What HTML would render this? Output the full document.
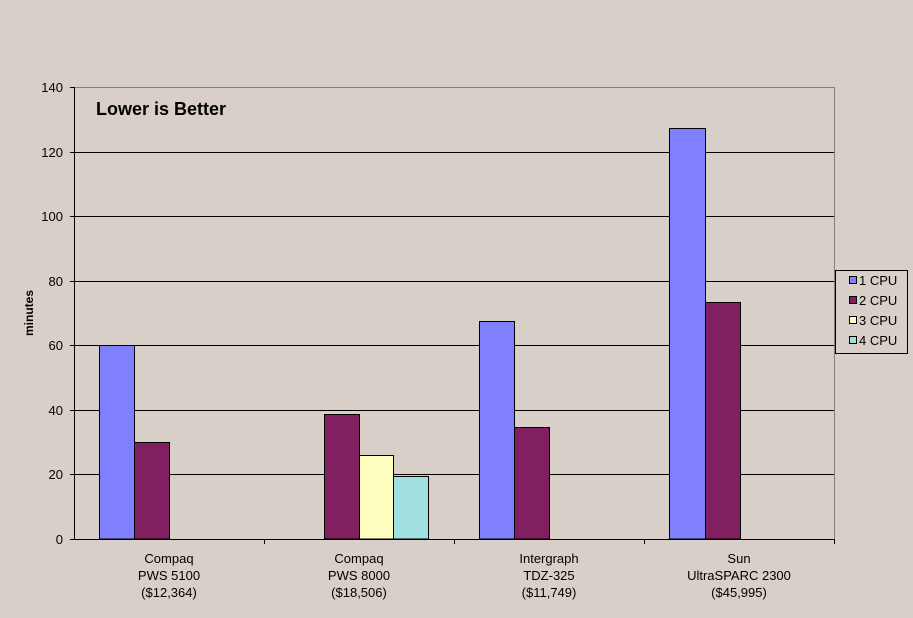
<!DOCTYPE html>
<html><head><style>
html,body{margin:0;padding:0;background:#d8d0c8;overflow:hidden;width:913px;height:618px;}
svg{display:block;}
svg text{font-family:"Liberation Sans",Arial,sans-serif;}
</style></head><body>
<svg width="913" height="618" xmlns="http://www.w3.org/2000/svg">
<rect width="913" height="618" fill="#d8d0c8"/>
<line x1="74" y1="87.5" x2="835" y2="87.5" stroke="#808080"/>
<line x1="834.5" y1="87" x2="834.5" y2="539" stroke="#808080"/>
<g stroke="#000" stroke-width="1">
<line x1="74" y1="152.5" x2="834" y2="152.5"/>
<line x1="74" y1="216.5" x2="834" y2="216.5"/>
<line x1="74" y1="281.5" x2="834" y2="281.5"/>
<line x1="74" y1="345.5" x2="834" y2="345.5"/>
<line x1="74" y1="410.5" x2="834" y2="410.5"/>
<line x1="74" y1="474.5" x2="834" y2="474.5"/>
</g>
<g stroke="#000" stroke-width="1">
<rect x="99.5" y="345.5" width="35" height="193.5" fill="#8080ff"/>
<rect x="134.5" y="442.5" width="35" height="96.5" fill="#802060"/>
<rect x="324.5" y="414.5" width="35" height="124.5" fill="#802060"/>
<rect x="359.5" y="455.5" width="34" height="83.5" fill="#ffffc0"/>
<rect x="393.5" y="476.5" width="35" height="62.5" fill="#a0e0e0"/>
<rect x="479.5" y="321.5" width="35" height="217.5" fill="#8080ff"/>
<rect x="514.5" y="427.5" width="35" height="111.5" fill="#802060"/>
<rect x="669.5" y="128.5" width="36" height="410.5" fill="#8080ff"/>
<rect x="705.5" y="302.5" width="35" height="236.5" fill="#802060"/>
</g>
<g stroke="#000">
<line x1="74.5" y1="87" x2="74.5" y2="540"/>
<line x1="70" y1="539.5" x2="835" y2="539.5"/>
<line x1="70" y1="87.5" x2="74" y2="87.5"/><line x1="70" y1="152.5" x2="74" y2="152.5"/>
<line x1="70" y1="216.5" x2="74" y2="216.5"/><line x1="70" y1="281.5" x2="74" y2="281.5"/>
<line x1="70" y1="345.5" x2="74" y2="345.5"/><line x1="70" y1="410.5" x2="74" y2="410.5"/>
<line x1="70" y1="474.5" x2="74" y2="474.5"/>
<line x1="264.5" y1="539" x2="264.5" y2="544"/><line x1="454.5" y1="539" x2="454.5" y2="544"/>
<line x1="644.5" y1="539" x2="644.5" y2="544"/><line x1="834.5" y1="539" x2="834.5" y2="544"/>
</g>
<g font-size="13" text-anchor="end">
<text x="63" y="544">0</text><text x="63" y="479">20</text><text x="63" y="415">40</text>
<text x="63" y="350">60</text><text x="63" y="286">80</text><text x="63" y="221">100</text>
<text x="63" y="157">120</text><text x="63" y="92">140</text>
</g>
<text x="33" y="313" font-size="12" font-weight="bold" text-anchor="middle" transform="rotate(-90 33 313)">minutes</text>
<text x="96" y="115" font-size="18" font-weight="bold">Lower is Better</text>
<g font-size="13" text-anchor="middle">
<text x="169" y="563">Compaq</text><text x="169" y="580">PWS 5100</text><text x="169" y="597">($12,364)</text>
<text x="359" y="563">Compaq</text><text x="359" y="580">PWS 8000</text><text x="359" y="597">($18,506)</text>
<text x="549" y="563">Intergraph</text><text x="549" y="580">TDZ-325</text><text x="549" y="597">($11,749)</text>
<text x="739" y="563">Sun</text><text x="739" y="580">UltraSPARC 2300</text><text x="739" y="597">($45,995)</text>
</g>
<rect x="835.5" y="270.5" width="72" height="83" fill="#d8d0c8" stroke="#000"/>
<g stroke="#000">
<rect x="849.5" y="276.5" width="7" height="7" fill="#8080ff"/>
<rect x="849.5" y="296.5" width="7" height="7" fill="#802060"/>
<rect x="849.5" y="316.5" width="7" height="7" fill="#ffffc0"/>
<rect x="849.5" y="336.5" width="7" height="7" fill="#a0e0e0"/>
</g>
<g font-size="13">
<text x="859" y="285">1 CPU</text><text x="859" y="305">2 CPU</text>
<text x="859" y="325">3 CPU</text><text x="859" y="345">4 CPU</text>
</g>
</svg>
</body></html>
